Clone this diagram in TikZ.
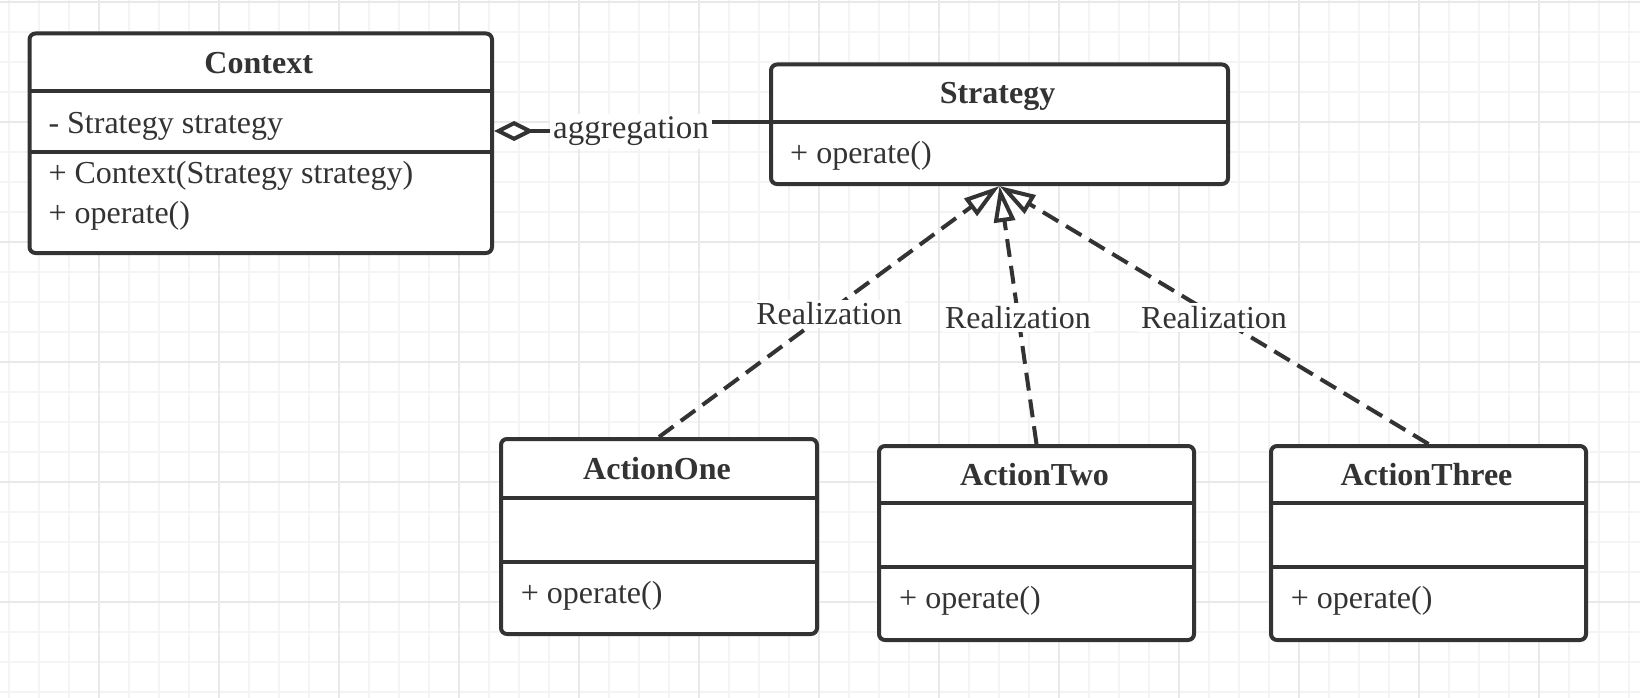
\documentclass[tikz,border=0pt]{standalone}
\usepackage{fontspec}
\setmainfont{Liberation Serif}
\usetikzlibrary{arrows.meta}
\definecolor{ink}{HTML}{333333}
\definecolor{gridminor}{HTML}{F4F4F4}
\definecolor{gridmajor}{HTML}{E9E9E9}
\begin{document}
\begin{tikzpicture}[x=1pt,y=-1pt,
  classbox/.style={draw=ink, line width=4pt, rounded corners=6pt, fill=white, inner sep=0pt, anchor=north west},
  divider/.style={draw=ink, line width=4pt},
  ctitle/.style={font=\fontsize{32}{38}\selectfont\bfseries, text=ink, anchor=base, inner sep=0pt},
  member/.style={font=\fontsize{32}{38}\selectfont, text=ink, anchor=base west, inner sep=0pt},
  conlabel/.style={font=\fontsize{32}{38}\selectfont, text=ink, fill=white, inner sep=3pt},
  realize/.style={draw=ink, line width=4pt, dash pattern=on 18pt off 9pt,
     -{Triangle[fill=white, length=36pt, width=21pt, line width=4pt]}},
  aggr/.style={draw=ink, line width=4pt,
     {Diamond[fill=white, length=40pt, width=20pt, line width=4pt]}-},
  gminor/.style={draw=gridminor, line width=2pt},
  gmajor/.style={draw=gridmajor, line width=2pt},
]
\useasboundingbox (0,0) rectangle (1640,698);
\fill[white] (0,0) rectangle (1640,698);
% grid
\foreach \x in {9,39,...,1629} \draw[gminor] (\x,0) -- (\x,698);
\foreach \y in {2,32,...,692} \draw[gminor] (0,\y) -- (1640,\y);
\foreach \x in {99,219,...,1539} \draw[gmajor] (\x,0) -- (\x,698);
\foreach \y in {2,122,...,602} \draw[gmajor] (0,\y) -- (1640,\y);

% Context
\node[classbox, minimum width=462.5pt, minimum height=219.5pt] (ctx) at (27.5,31.5) {};
\draw[divider] (ctx.west |- 0,90.7) -- (ctx.east |- 0,90.7);
\draw[divider] (ctx.west |- 0,151.7) -- (ctx.east |- 0,151.7);
\node[ctitle] (ctxT) at (258.7,74) {Context};
\node[member] (ctxA) at (48.3,133.5) {- Strategy strategy};
\node[member] (ctxM1) at (48.3,183.5) {+ Context(Strategy strategy)};
\node[member] (ctxM2) at (48.3,223.5) {+ operate()};

% Strategy
\node[classbox, minimum width=457pt, minimum height=119.5pt] (strat) at (769,62.5) {};
\draw[divider] (strat.west |- 0,121.7) -- (strat.east |- 0,121.7);
\node[ctitle] (stratT) at (997.5,103.5) {Strategy};
\node[member] (stratM) at (790,163.5) {+ operate()};

% ActionOne
\node[classbox, minimum width=316pt, minimum height=195pt] (one) at (499,437) {};
\draw[divider] (one.west |- 0,498) -- (one.east |- 0,498);
\node[ctitle] (oneT) at (657,479.5) {ActionOne};
\draw[divider] (one.west |- 0,562) -- (one.east |- 0,562);
\node[member] (oneM) at (520.7,603.5) {+ operate()};

% ActionTwo
\node[classbox, minimum width=315pt, minimum height=194pt] (two) at (877,444) {};
\draw[divider] (two.west |- 0,503) -- (two.east |- 0,503);
\node[ctitle] (twoT) at (1034.5,485) {ActionTwo};
\draw[divider] (two.west |- 0,567) -- (two.east |- 0,567);
\node[member] (twoM) at (899,608.5) {+ operate()};

% ActionThree
\node[classbox, minimum width=315pt, minimum height=194pt] (three) at (1269,444) {};
\draw[divider] (three.west |- 0,503) -- (three.east |- 0,503);
\node[ctitle] (threeT) at (1426.5,485) {ActionThree};
\draw[divider] (three.west |- 0,567) -- (three.east |- 0,567);
\node[member] (threeM) at (1290.7,608.5) {+ operate()};

% aggregation
\coordinate (a1) at (631,131);
\coordinate (a2) at (631,121.7);
\draw[aggr] (ctx.east |- a1) -- (a1) -- (a2) -- (strat.west |- a2);
\node[conlabel, anchor=base, font=\fontsize{33}{38}\selectfont] (aggL) at (631,139) {aggregation};

% realizations
\draw[realize] (one.north) -- node[conlabel, yshift=-2.5pt] (r1) {Realization} (strat.south);
\draw[realize] (two.north) -- node[conlabel, yshift=-2.5pt] (r2) {Realization} (strat.south);
\draw[realize] (three.north) -- node[conlabel, yshift=-2.5pt] (r3) {Realization} (strat.south);
\end{tikzpicture}
\end{document}
